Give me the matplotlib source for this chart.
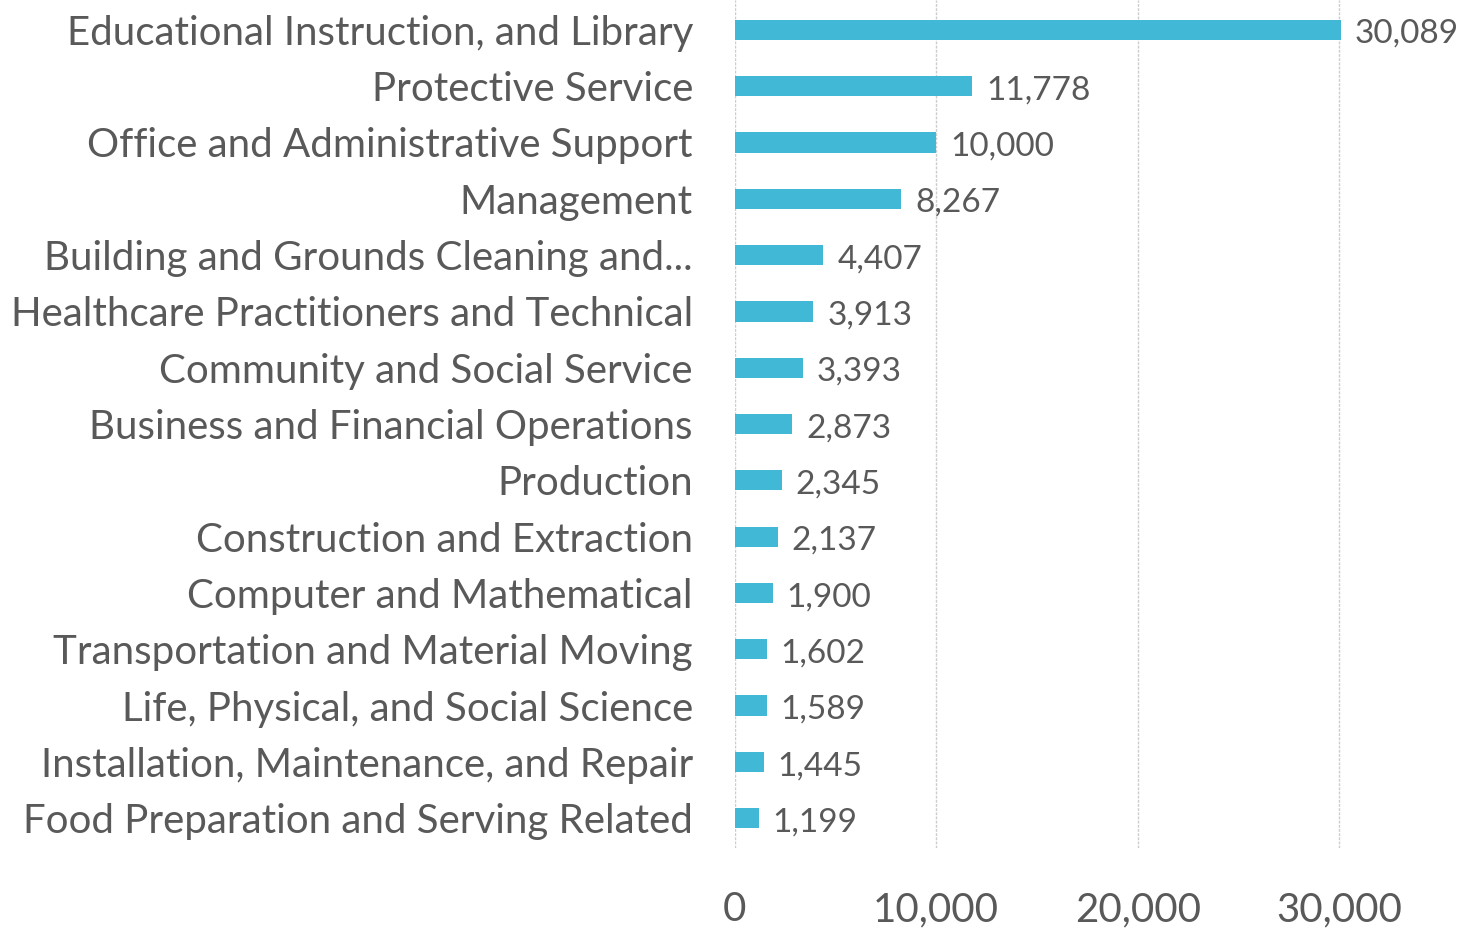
import matplotlib
matplotlib.use("Agg")
import matplotlib.pyplot as plt

categories = [
    "Educational Instruction, and Library",
    "Protective Service",
    "Office and Administrative Support",
    "Management",
    "Building and Grounds Cleaning and...",
    "Healthcare Practitioners and Technical",
    "Community and Social Service",
    "Business and Financial Operations",
    "Production",
    "Construction and Extraction",
    "Computer and Mathematical",
    "Transportation and Material Moving",
    "Life, Physical, and Social Science",
    "Installation, Maintenance, and Repair",
    "Food Preparation and Serving Related",
]
values = [30089, 11778, 10000, 8267, 4407, 3913, 3393, 2873, 2345, 2137,
          1900, 1602, 1589, 1445, 1199]
xticks = [0, 10000, 20000, 30000]

plt.rcParams["font.family"] = ["Lato", "DejaVu Sans"]
text_color = "#595959"
bar_color = "#41B8D5"

fig = plt.figure(figsize=(14.75, 9.35), dpi=100)
ax = fig.add_axes([0.498, 0.093, 0.492, 0.907])

pos = list(range(len(categories)))
ax.barh(pos, values, height=0.36, color=bar_color, zorder=3)
for p, v in zip(pos, values):
    ax.annotate(f"{v:,}", (v, p), xytext=(10, -3), textcoords="offset points",
                ha="left", va="center", fontsize=24, color=text_color)

ax.set_ylim(14.53, -0.53)
ax.set_xlim(0, 36000)
ax.set_yticks(pos)
ax.set_yticklabels(categories, fontsize=29, color=text_color)
for lbl in ax.get_yticklabels():
    lbl.set_y(lbl.get_position()[1])
ax.set_xticks(xticks)
ax.set_xticklabels([f"{t:,}" for t in xticks], fontsize=29, color=text_color)
ax.tick_params(axis="y", length=0, pad=30)
ax.tick_params(axis="x", length=0, pad=31)
ax.grid(axis="x", color="#CCCCCC", linewidth=1, linestyle=(0, (2, 1)), zorder=0)
for s in ax.spines.values():
    s.set_visible(False)

fig.savefig("out.png", dpi=100)
